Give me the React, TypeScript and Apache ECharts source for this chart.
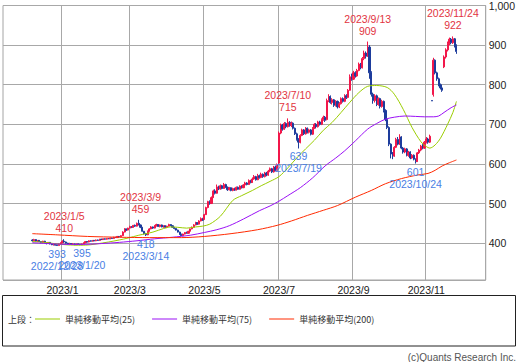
import React, { useEffect, useRef } from "react";
import * as echarts from "echarts";

// Tokyo market holidays inside the axis range (weekends are skipped too)
const HOLIDAYS = [
  "2022/11/23", "2023/01/02", "2023/01/03", "2023/01/09", "2023/02/23", "2023/03/21",
  "2023/05/03", "2023/05/04", "2023/05/05", "2023/07/17", "2023/08/11", "2023/09/18",
  "2023/10/09", "2023/11/03", "2023/11/23",
];
const AXIS_START = [2022, 11, 15];
const AXIS_END = [2023, 12, 20];
const CANDLE_START = "2022/12/08";

// daily candles [open, close, low, high], consecutive trading days from CANDLE_START
const CANDLES: number[][] = [
  [408,406,404,410],[406,409,405,411],[409,405,404,410],[405,407,403,408],[407,404,403,408],[404,402,400,405],[402,405,401,406],[405,401,400,406],[401,399,397,402],[399,402,398,403],
  [402,398,397,403],[398,396,395,399],[396,397,394,399],[397,395,394,398],[396,394,393,397],[394,398,394,399],[398,401,397,402],[401,405,400,407],[405,403,402,410],[403,400,399,404],
  [400,398,397,401],[398,399,397,401],[399,397,396,400],[397,398,396,400],[398,396,395,399],[396,398,395,399],[398,397,396,399],[397,396,395,398],[396,398,395,399],[398,401,397,402],
  [401,404,400,405],[404,403,402,405],[403,406,402,407],[406,405,404,407],[405,407,404,408],[407,406,405,408],[406,408,405,409],[408,407,406,409],[407,410,406,411],[410,409,408,411],
  [409,411,408,412],[411,410,409,412],[410,412,409,413],[412,411,410,413],[411,413,410,414],[413,412,411,414],[412,415,411,416],[415,414,413,416],[414,417,413,418],[417,416,415,418],
  [416,419,415,420],[419,428,418,430],[428,436,427,438],[436,433,431,437],[433,438,432,439],[438,442,437,444],[442,440,438,443],[440,445,439,446],[445,443,441,447],[443,450,442,452],
  [450,446,445,459],[446,440,438,447],[440,430,429,441],[430,424,422,431],[424,421,418,426],[421,430,420,432],[430,436,429,438],[436,441,435,443],[441,438,436,442],[438,444,437,446],
  [444,447,442,449],[447,442,441,448],[442,446,440,447],[446,441,440,447],[441,444,439,445],[444,440,438,445],[440,443,438,444],[443,447,442,449],[447,444,443,448],[444,440,439,445],
  [440,437,435,441],[437,433,432,438],[433,428,427,434],[428,422,421,429],[422,419,418,424],[419,423,418,424],[423,427,422,428],[427,425,424,429],[425,430,424,431],[430,436,429,437],
  [436,440,435,442],[440,446,439,448],[446,452,445,454],[452,448,446,453],[448,456,447,458],[456,462,455,465],[462,458,456,464],[460,472,459,474],[472,490,471,492],[490,505,488,507],
  [505,500,497,508],[500,515,499,518],[515,532,514,535],[532,526,523,536],[526,542,525,548],[542,537,534,545],[537,545,535,548],[545,538,536,547],[538,548,537,552],[548,541,539,550],
  [541,535,532,543],[535,540,533,542],[540,533,531,541],[533,538,531,540],[538,534,532,540],[534,541,533,543],[541,536,535,543],[536,544,535,546],[544,540,538,546],[540,547,539,549],
  [547,552,545,555],[552,548,546,554],[548,558,547,561],[558,553,551,560],[553,562,552,566],[562,568,560,572],[568,560,558,570],[560,570,559,575],[570,566,563,573],[566,574,564,578],
  [574,568,565,576],[568,577,566,580],[577,572,569,580],[572,582,570,585],[582,588,579,591],[588,580,577,590],[580,592,578,595],[592,584,581,596],[584,598,582,601],[602,678,600,682],
  [678,698,675,702],[698,688,684,701],[688,702,686,706],[702,694,690,705],[694,705,692,715],[705,697,694,708],[697,703,693,707],[703,690,687,705],[690,676,673,692],[676,662,659,679],
  [662,655,639,665],[655,672,652,675],[672,686,670,689],[686,676,673,688],[676,690,674,693],[690,680,677,692],[680,686,677,689],[686,675,672,688],[675,690,673,693],[690,700,688,703],
  [700,694,691,703],[694,706,692,709],[706,700,697,709],[700,712,698,715],[712,718,709,722],[718,710,706,721],[712,760,710,765],[760,770,756,776],[770,755,752,773],[755,762,750,766],
  [762,748,744,764],[748,758,745,761],[758,744,740,760],[744,752,741,756],[752,765,750,768],[765,758,755,768],[758,772,756,776],[772,768,764,776],[768,786,766,789],[786,820,785,826],
  [820,814,810,828],[814,830,812,835],[830,822,818,834],[822,836,820,840],[836,852,834,856],[852,843,839,855],[843,866,841,870],[866,880,862,886],[880,872,866,884],[872,895,870,909],
  [895,830,815,900],[830,776,770,834],[776,760,752,780],[760,772,755,776],[772,750,746,775],[750,765,747,768],[765,745,740,767],[745,758,742,762],[758,735,730,760],[735,712,708,738],
  [712,692,688,715],[692,650,645,695],[650,625,614,652],[625,620,612,630],[620,642,618,645],[642,662,640,666],[662,650,647,668],[650,668,648,675],[668,640,637,670],[640,630,626,643],
  [630,638,627,641],[638,622,619,640],[622,630,618,633],[630,615,612,632],[615,622,613,625],[622,612,609,624],[612,606,601,614],[606,628,605,630],[628,635,625,638],[635,645,632,648],
  [645,640,637,650],[640,655,638,658],[655,663,652,668],[663,655,651,666],[655,670,653,674],[760,759,759,760],[775,862,770,868],[862,830,826,864],[830,815,810,833],[815,800,796,818],
  [800,792,788,803],[792,786,782,795],[845,870,842,874],[870,888,866,892],[888,905,884,909],[905,915,900,919],[915,906,902,918],[906,916,903,922],[916,898,894,918],[898,884,878,902],
];

// moving averages: [trading-day index on the axis, value]
const MA25: number[][] = [
  [16,404],[20,403],[25,401],[30,398],[35,396],[40,395],[46,395],[52,398],[59,403],[65,408],[70,413],
  [76,420],[84,428],[90,437],[94,441],[98,440],[103,438],[108,441],[112,443],[116,448],[122,468],
  [129,508],[134,520],[140,533],[145,545],[150,556],[155,568],[160,590],[165,615],[170,638],[175,660],
  [180,685],[185,705],[190,730],[195,756],[200,780],[205,796],[210,798],[216,793],[220,776],[225,738],
  [230,692],[235,656],[238,644],[240,640],[243,648],[246,665],[250,700],[253,730],[255,758],
];
const MA75: number[][] = [
  [16,401],[25,399],[35,397],[45,397],[55,399],[65,402],[75,406],[85,411],[95,415],[105,420],[113,427],
  [120,434],[127,444],[135,461],[144,482],[150,494],[155,506],[160,520],[167,540],[174,565],[181,595],
  [187,615],[192,633],[198,658],[205,688],[210,702],[215,713],[220,718],[226,721],[232,720],[237,719],
  [242,719],[245,721],[248,730],[252,742],[255,749],
];
const MA200: number[][] = [
  [16,424],[30,421],[47,417],[65,415],[82,414],[100,414],[113,417],[128,424],[143,434],[154,445],
  [162,456],[171,470],[180,483],[188,495],[198,516],[207,533],[215,550],[224,563],[233,572],[239,576],
  [243,584],[247,595],[251,603],[255,610],
];

const HIGH_MARKS: [string, number][] = [
  ["2023/01/05", 410], ["2023/03/09", 459], ["2023/07/10", 715], ["2023/09/13", 909], ["2023/11/24", 922],
];
const LOW_MARKS: [string, number][] = [
  ["2022/12/28", 393], ["2023/01/20", 395], ["2023/03/14", 418], ["2023/07/19", 639], ["2023/10/24", 601],
];

const SERIES_NAMES = ["単純移動平均(25)", "単純移動平均(75)", "単純移動平均(200)"];
const Y_MIN = 307;
const Y_MAX = 1000;

const pad = (n: number) => (n < 10 ? "0" + n : "" + n);
const fmt = (d: Date) => `${d.getUTCFullYear()}/${pad(d.getUTCMonth() + 1)}/${pad(d.getUTCDate())}`;
const shortDate = (s: string) => {
  const [y, m, d] = s.split("/");
  return `${y}/${+m}/${+d}`;
};

function buildDays(): string[] {
  const out: string[] = [];
  const d = new Date(Date.UTC(AXIS_START[0], AXIS_START[1] - 1, AXIS_START[2]));
  const end = Date.UTC(AXIS_END[0], AXIS_END[1] - 1, AXIS_END[2]);
  while (d.getTime() <= end) {
    const wd = d.getUTCDay();
    const s = fmt(d);
    if (wd !== 0 && wd !== 6 && HOLIDAYS.indexOf(s) < 0) out.push(s);
    d.setUTCDate(d.getUTCDate() + 1);
  }
  return out;
}

const RED = "#e2343f";
const BLUE = "#4a80e4";
const MA_COLORS = ["#9acd00", "#9a10f5", "#ff2a00"];

export default function App() {
  const ref = useRef<HTMLDivElement>(null);
  useEffect(() => {
    if (!ref.current) return;
    const chart = echarts.init(ref.current, null, { renderer: "svg" });
    const days = buildDays();
    const first = days.indexOf(CANDLE_START);
    const monthLabel: Record<number, string> = {};
    for (let i = 1; i < days.length; i++) {
      const [y, m] = days[i].split("/");
      if (days[i].slice(0, 7) !== days[i - 1].slice(0, 7) && y === "2023" && +m % 2 === 1) {
        monthLabel[i] = `${y}/${+m}`;
      }
    }
    const isMonth = (i: number) => monthLabel[i] !== undefined;
    const candleData: any[] = [];
    for (let i = 0; i < first; i++) candleData.push(["-", "-", "-", "-"]);
    CANDLES.forEach((c) => candleData.push(c));
    const maLine = (arr: number[][]) => arr.map(([i, v]) => [days[i], v]);
    const font = "'Liberation Sans', Arial, sans-serif";
    const jp = "'Noto Sans CJK JP', sans-serif";

    const marks = [
      ...HIGH_MARKS.map(([d, v]) => ({
        coord: [d, v],
        label: { position: "top", distance: 5, color: RED, formatter: `${shortDate(d)}\n${v}` },
      })),
      ...LOW_MARKS.map(([d, v]) => ({
        coord: [d, v],
        label: { position: "bottom", distance: 2, color: BLUE, formatter: `${v}\n${shortDate(d)}` },
      })),
    ];

    const maSeries = [MA25, MA75, MA200].map((arr, k) => ({
      name: SERIES_NAMES[k],
      type: "line",
      data: maLine(arr),
      symbol: "none",
      smooth: 0.3,
      lineStyle: { color: MA_COLORS[k], width: 1 },
      itemStyle: { color: MA_COLORS[k] },
    }));

    chart.setOption({
      animation: false,
      textStyle: { fontFamily: font },
      grid: { left: 3, right: 32, top: 4, bottom: 82, show: true, borderColor: "#a4a4a4", borderWidth: 1 },
      xAxis: {
        type: "category",
        data: days,
        boundaryGap: true,
        axisLine: { show: false },
        axisTick: { show: false },
        axisLabel: {
          interval: (i: number) => isMonth(i),
          formatter: (_v: string, i: number) => monthLabel[i] || "",
          fontSize: 10.5,
          color: "#222",
          margin: 4,
          fontFamily: font,
        },
        splitLine: { show: true, interval: (i: number) => isMonth(i), lineStyle: { color: "#a8a8a8", width: 1 } },
      },
      yAxis: {
        type: "value",
        position: "right",
        min: Y_MIN,
        max: Y_MAX,
        splitNumber: 7,
        axisLine: { show: false },
        axisTick: { show: false },
        axisLabel: {
          fontSize: 10.5,
          color: "#222",
          margin: 3,
          showMinLabel: false,
          fontFamily: font,
          formatter: (v: number) => v.toLocaleString("en-US"),
        },
        splitLine: { lineStyle: { color: "#a8a8a8", width: 1 } },
      },
      legend: {
        left: 35,
        top: 313,
        padding: 0,
        itemGap: 17,
        itemWidth: 25,
        itemHeight: 1,
        icon: "rect",
        data: SERIES_NAMES.map((n, k) => ({ name: n, icon: "rect", itemStyle: { color: MA_COLORS[k] } })),
        selectedMode: false,
        textStyle: { fontSize: 9, color: "#333", fontFamily: jp, lineHeight: 12 },
      },
      series: [
        {
          type: "candlestick",
          data: candleData,
          barWidth: 1.6,
          itemStyle: { color: "#f2174a", color0: "#1d3c9c", borderColor: "#f2174a", borderColor0: "#1d3c9c", borderWidth: 1 },
          markPoint: {
            symbol: "circle",
            symbolSize: 0,
            silent: true,
            itemStyle: { color: "transparent" },
            label: { show: true, fontSize: 10.5, lineHeight: 12, fontFamily: font },
            data: marks,
          },
        },
        ...maSeries,
      ],
      graphic: [
        { type: "rect", shape: { x: 2.5, y: 295.5, width: 513, height: 50.5 }, style: { fill: "none", stroke: "#222", lineWidth: 1 }, silent: true },
        { type: "text", x: 8, y: 319, style: { text: "上段：", fontSize: 9, fill: "#333", fontFamily: jp, verticalAlign: "middle" } },
        { type: "text", x: 516, y: 357, style: { text: "(c)Quants Research Inc.", fontSize: 10, fill: "#555", fontFamily: font, align: "right", verticalAlign: "middle" } },
      ],
    });
    return () => chart.dispose();
  }, []);
  return <div ref={ref} style={{ position: "fixed", left: 0, top: 0, width: 518, height: 362, background: "#fff" }} />;
}
